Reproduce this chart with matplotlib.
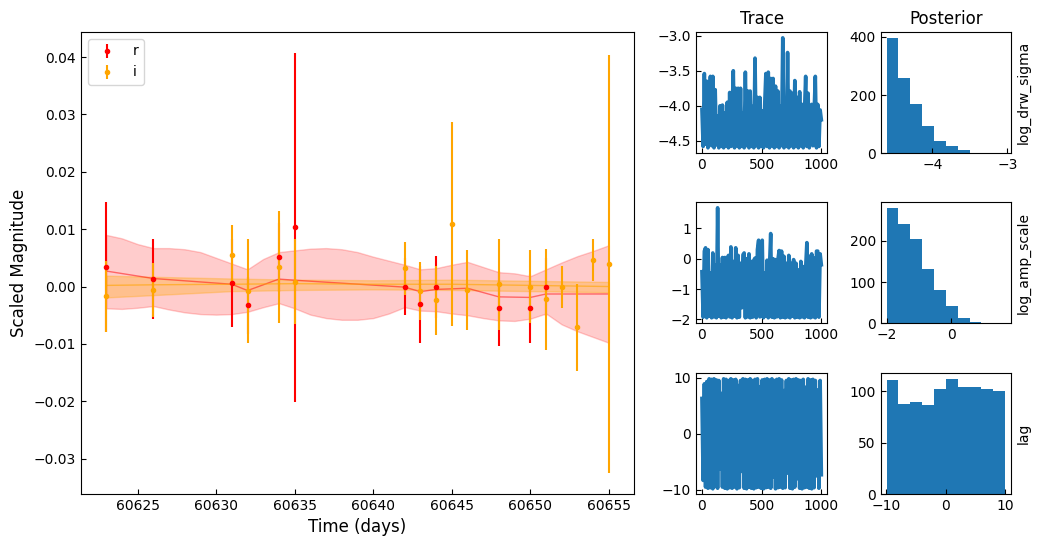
import numpy as np
import matplotlib
matplotlib.use("Agg")
import matplotlib.pyplot as plt

# observed light curve points
r_time = [60623, 60626, 60631, 60632, 60634, 60635, 60642, 60643, 60644, 60648, 60650, 60651]
r_mag = [0.0034, 0.0013, 0.0006, -0.0033, 0.0051, 0.0103, 0.0000, -0.0031, -0.0001, -0.0038, -0.0038, -0.0001]
r_err = [0.0114, 0.0070, 0.0076, 0.0050, 0.0060, 0.0304, 0.0050, 0.0067, 0.0054, 0.0065, 0.0060, 0.0050]

i_time = [60623, 60626, 60631, 60632, 60634, 60635, 60642, 60643, 60644, 60645, 60646, 60648,
          60650, 60651, 60652, 60653, 60654, 60655]
i_mag = [-0.0017, -0.0006, 0.0055, -0.0008, 0.0034, 0.0008, 0.0032, -0.0008, -0.0024, 0.0109, -0.0006, 0.0004,
         0.0000, -0.0022, -0.0001, -0.0071, 0.0046, 0.0039]
i_err = [0.0062, 0.0047, 0.0053, 0.0091, 0.0098, 0.0074, 0.0046, 0.0050, 0.0060, 0.0178, 0.0069, 0.0079,
         0.0064, 0.0088, 0.0037, 0.0076, 0.0036, 0.0364]

# GP prediction, r band
r_mean_time = [60623, 60626, 60631, 60632, 60634, 60635, 60642, 60643, 60644, 60646, 60648, 60650, 60651, 60655]
r_mean = [0.0027, 0.0014, 0.0004, -0.0007, 0.0013, 0.0011, -0.0001, -0.0009, -0.0005, -0.0003, -0.0018, -0.0019,
          -0.0013, -0.0013]
band_time = list(range(60623, 60656))
r_upper = [0.0090, 0.0084, 0.0074, 0.0067, 0.0067, 0.0065, 0.0060, 0.0050, 0.0040, 0.0030, 0.0048, 0.0060,
           0.0063, 0.0066, 0.0067, 0.0065, 0.0060, 0.0052, 0.0045, 0.0038, 0.0030, 0.0032, 0.0038, 0.0043,
           0.0034, 0.0025, 0.0023, 0.0018, 0.0030, 0.0042, 0.0053, 0.0062, 0.0072]
r_lower = [-0.0038, -0.0039, -0.0037, -0.0034, -0.0040, -0.0045, -0.0048, -0.0049, -0.0048, -0.0044, -0.0036,
           -0.0029, -0.0038, -0.0049, -0.0055, -0.0058, -0.0058, -0.0055, -0.0047, -0.0036, -0.0042, -0.0043,
           -0.0047, -0.0050, -0.0055, -0.0059, -0.0060, -0.0056, -0.0047, -0.0066, -0.0078, -0.0088, -0.0098]

# GP prediction, i band
i_band_time = [60623, 60626, 60631, 60635, 60640, 60645, 60650, 60655]
i_mean = [0.0002, 0.0003, 0.0004, 0.0005, 0.0004, 0.0004, 0.0002, 0.0000]
i_upper = [0.0019, 0.0017, 0.0014, 0.0012, 0.0011, 0.0012, 0.0010, 0.0008]
i_lower = [-0.0019, -0.0015, -0.0008, -0.0006, -0.0005, -0.0006, -0.0008, -0.0010]

# MCMC traces (thinned)
trace_drw_sigma = [
    -4.05, -4.58, -3.54, -4.55, -3.65, -4.60, -4.10, -3.58, -4.57, -3.58,
    -4.60, -3.77, -4.56, -4.15, -4.60, -4.00, -4.58, -3.99, -4.60, -4.10,
    -4.57, -3.95, -4.60, -3.81, -4.58, -4.10, -3.50, -4.60, -3.75, -4.57,
    -3.75, -4.60, -3.75, -4.58, -4.10, -4.60, -3.52, -4.57, -3.79, -4.60,
    -3.79, -4.58, -4.01, -4.60, -3.32, -4.57, -3.88, -4.60, -3.88, -4.58,
    -4.07, -4.60, -4.00, -3.54, -4.58, -3.52, -4.60, -3.61, -4.57, -3.61,
    -4.60, -3.72, -4.58, -3.79, -4.60, -4.00, -4.57, -3.03, -4.60, -4.07,
    -4.58, -3.24, -4.60, -3.79, -4.57, -3.82, -4.60, -3.64, -4.58, -3.88,
    -4.60, -3.80, -4.57, -3.98, -4.60, -4.10, -3.58, -4.58, -3.82, -4.60,
    -4.10, -3.98, -4.57, -4.10, -3.58, -4.60, -3.98, -4.58, -4.06, -4.20]
trace_amp_scale = [
    -0.43, -1.93, 0.25, 0.36, -1.95, 0.30, -1.90, -0.48, -1.95, 0.19,
    -1.92, -0.20, -1.95, 1.68, -1.90, -0.20, -1.95, 0.04, -1.93, 0.04,
    -1.95, -0.03, 0.11, -1.92, 0.39, -1.95, -0.09, -1.90, 0.36, -1.95,
    0.11, -1.93, -0.15, -1.62, 0.13, 0.19, -1.95, 0.00, -1.92, 0.16,
    -1.95, -0.09, -1.93, -0.05, 0.02, -1.95, 0.30, 0.61, -1.92, -0.30,
    0.61, -1.95, -0.48, -1.90, -0.05, -1.95, -0.30, 0.83, -1.93, 0.00,
    -1.95, -0.03, -1.92, -0.03, 0.27, -1.95, 0.25, -1.93, 0.08, -1.95,
    -0.15, -1.92, 0.11, -1.95, -0.15, -1.90, -0.03, -1.95, -0.15, -1.93,
    -0.37, -1.95, -0.09, -1.92, -0.26, -1.95, -0.30, 0.53, -1.93, 0.08,
    -1.95, 0.16, -1.92, 0.02, -1.95, 0.25, 0.25, -1.93, 0.16, -0.20]
trace_lag = [
    6.3, -8.3, 8.9, -9.5, 9.3, -9.7, 9.8, -9.6, 9.7, -9.8,
    9.8, -9.4, 9.6, -9.7, 9.5, -6.2, 7.2, -9.5, 9.8, -9.7,
    9.7, -9.8, 9.5, -9.6, 9.8, -9.7, 9.6, -9.5, 9.7, -9.8,
    8.6, -9.6, 9.5, -6.7, 9.8, -9.7, 9.7, -9.8, 9.6, -9.5,
    9.8, -9.7, 9.5, -9.8, 9.7, -9.6, 9.8, -9.5, 8.4, -9.7,
    9.6, -9.8, 9.7, -9.6, 9.8, -9.5, 9.6, -9.7, 9.8, -7.7,
    9.5, -9.8, 9.7, -9.6, 9.8, -9.5, 9.6, -9.7, 7.7, -9.6,
    9.5, -7.0, 9.8, -9.7, 9.6, -9.8, 9.7, -9.5, 9.8, -8.0,
    9.6, -9.7, 9.5, -9.8, 9.7, -9.6, 8.3, -9.5, 9.8, -9.7,
    9.6, -9.8, 9.7, -9.6, 9.5, -7.5, 7.8, -9.7, 9.5, -7.3]

# posterior histograms: (min, max) range and counts in 10 bins
hist_drw_sigma_range = (-4.61, -3.03)
hist_drw_sigma = [396, 259, 171, 93, 42, 24, 12, 1, 0, 2]
hist_amp_scale_range = (-2.00, 1.67)
hist_amp_scale = [280, 241, 205, 132, 81, 42, 14, 3, 1, 1]
hist_lag_range = (-9.98, 9.98)
hist_lag = [111, 88, 90, 87, 102, 112, 104, 104, 102, 100]

param_names = ['log_drw_sigma', 'log_amp_scale', 'lag']
traces = [trace_drw_sigma, trace_amp_scale, trace_lag]
hists = [(hist_drw_sigma_range, hist_drw_sigma),
         (hist_amp_scale_range, hist_amp_scale),
         (hist_lag_range, hist_lag)]

plt.rcParams['path.simplify'] = False

fig = plt.figure(figsize=(10.4, 5.46), dpi=100)

# light curve panel
ax = fig.add_axes([0.0779, 0.0952, 0.5317, 0.8462])
ax.fill_between(band_time, r_lower, r_upper, color='red', alpha=0.2)
ax.fill_between(i_band_time, i_lower, i_upper, color='orange', alpha=0.3)
ax.plot(r_mean_time, r_mean, color='red', alpha=0.5, lw=1)
ax.plot(i_band_time, i_mean, color='orange', alpha=0.6, lw=1)
ax.errorbar(r_time, r_mag, yerr=r_err, fmt='.', color='red', label='r')
ax.errorbar(i_time, i_mag, yerr=i_err, fmt='.', color='orange', label='i')
ax.set_xlabel('Time (days)', fontsize=12)
ax.set_ylabel('Scaled Magnitude', fontsize=12)
ax.tick_params(direction='in')
ax.legend(loc='upper left')

# trace + posterior panels
row_bottoms = [0.7192, 0.4079, 0.0947]
for k in range(3):
    ax_t = fig.add_axes([0.6692, row_bottoms[k], 0.1263, 0.2216])
    steps = np.linspace(0, 999, len(traces[k]))
    ax_t.plot(steps, traces[k], color='C0', lw=2.6)
    ax_t.tick_params(direction='in')

    ax_h = fig.add_axes([0.8468, row_bottoms[k], 0.1253, 0.2216])
    rng, counts = hists[k]
    edges = np.linspace(rng[0], rng[1], len(counts) + 1)
    centers = (edges[:-1] + edges[1:]) / 2
    ax_h.hist(centers, bins=edges, weights=counts, color='C0')
    ax_h.tick_params(direction='in')
    ax_h.yaxis.set_label_position('right')
    ax_h.set_ylabel(param_names[k])

    if k == 0:
        ax_t.set_title('Trace', fontsize=12)
        ax_h.set_title('Posterior', fontsize=12)

fig.savefig('out.png', dpi=100)
